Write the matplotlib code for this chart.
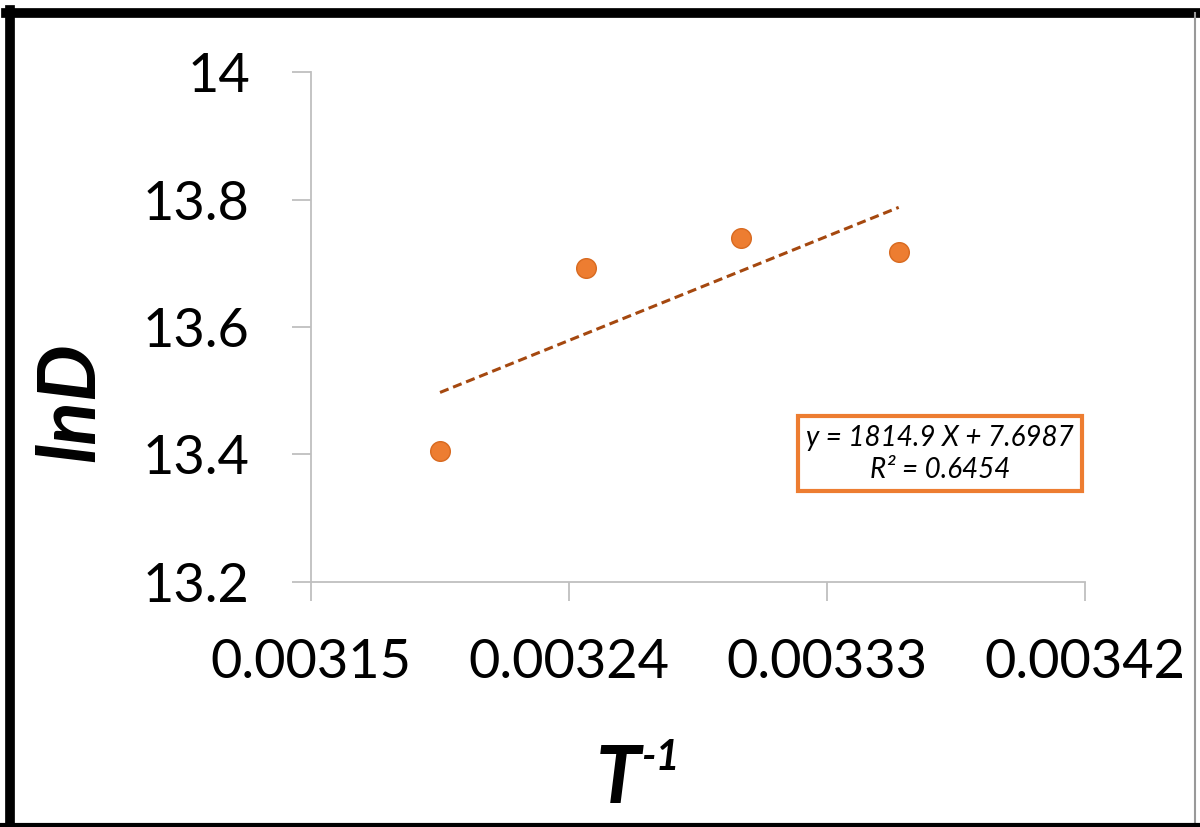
"""Arrhenius-style plot of lnD against 1/T with a linear trend line."""

import matplotlib

matplotlib.use("Agg")
import matplotlib.pyplot as plt
from matplotlib.lines import Line2D
import numpy as np

# data
inv_temp = [0.003195, 0.003246, 0.003300, 0.003355]
ln_d = [13.405, 13.692, 13.739, 13.718]

# trend line as printed on the chart
slope = 1814.9
intercept = 7.6987
trend_label = "y = 1814.9 X + 7.6987\nR² = 0.6454"

x_ticks = [0.00315, 0.00324, 0.00333, 0.00342]
x_tick_labels = ["0.00315", "0.00324", "0.00333", "0.00342"]
y_ticks = [13.2, 13.4, 13.6, 13.8, 14.0]
y_tick_labels = ["13.2", "13.4", "13.6", "13.8", "14"]

FONT = "Lato"
AXIS_GREY = "#bfbfbf"
ORANGE = "#ed7d31"
TREND = "#a5480f"

plt.rcParams["font.family"] = [FONT, "DejaVu Sans"]

fig = plt.figure(figsize=(12, 8.27), dpi=100)
ax = fig.add_axes([0.2592, 0.2963, 0.645, 0.6166])

ax.scatter(inv_temp, ln_d, s=200, color=ORANGE, edgecolor="#d86a20",
           linewidth=1.0, zorder=3)

trend_x = np.array([inv_temp[0], inv_temp[-1]])
ax.plot(trend_x, slope * trend_x + intercept, color=TREND, linestyle=(0, (3, 1.6)),
        linewidth=2.2, zorder=2)

ax.set_xlim(x_ticks[0], x_ticks[-1])
ax.set_ylim(y_ticks[0], y_ticks[-1])
ax.set_xticks(x_ticks)
ax.set_xticklabels(x_tick_labels)
ax.set_yticks(y_ticks)
ax.set_yticklabels(y_tick_labels)

for side in ("top", "right"):
    ax.spines[side].set_visible(False)
for side in ("left", "bottom"):
    ax.spines[side].set_color(AXIS_GREY)
    ax.spines[side].set_linewidth(1.3)

ax.tick_params(axis="both", colors=AXIS_GREY, labelcolor="black", length=14,
               width=1.3, labelsize=39)
ax.tick_params(axis="y", pad=30)
ax.tick_params(axis="x", pad=26)

ax.set_ylabel("lnD", fontsize=58, fontweight="bold", fontstyle="italic")
ax.yaxis.set_label_coords(-0.262, 0.353)

# x label: "T" with a smaller superscript "-1"
label_style = dict(fontweight="bold", fontstyle="italic", va="baseline",
                   transform=fig.transFigure)
fig.text(0.5335, 0.029, "T", ha="right", fontsize=58, **label_style)
fig.text(0.5345, 0.069, "-1", ha="left", fontsize=30, **label_style)

ax.text(0.8127, 0.251, trend_label, transform=ax.transAxes, ha="center",
        va="center", fontsize=20, fontstyle="italic", linespacing=1.3,
        bbox=dict(boxstyle="square,pad=0.3", facecolor="white",
                  edgecolor=ORANGE, linewidth=3))

# picture frame: heavy on top/left, light on right/bottom
fig.add_artist(Line2D([0.0083, 0.0083], [0.0, 0.988], color="black",
                      linewidth=7, transform=fig.transFigure))
fig.add_artist(Line2D([0.005, 1.0], [0.984, 0.984], color="black",
                      linewidth=7, transform=fig.transFigure))
fig.add_artist(Line2D([0.996, 0.996], [0.0, 0.984], color="#999999",
                      linewidth=1.5, transform=fig.transFigure))
fig.add_artist(Line2D([0.0, 1.0], [0.003, 0.003], color="black",
                      linewidth=3, transform=fig.transFigure))

fig.savefig("out.png", dpi=100)
